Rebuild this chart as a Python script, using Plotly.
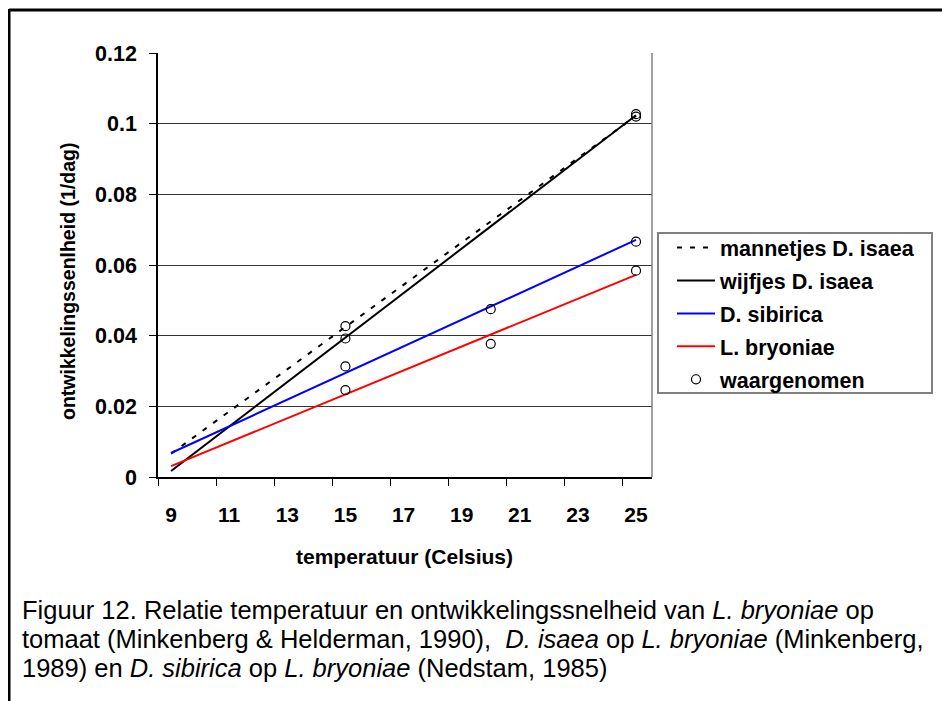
import plotly.graph_objects as go

# ---------------- data ----------------
line_temps = [9, 25]
male_isaea = [0.0066, 0.1022]
female_isaea = [0.0017, 0.1024]
sibirica = [0.0068, 0.0671]
bryoniae = [0.0031, 0.0572]

obs_temps = [15, 15, 15, 15, 20, 20, 25, 25, 25, 25]
obs_rates = [0.0427, 0.0392, 0.0313, 0.0246, 0.0475, 0.0377, 0.1027, 0.1020, 0.0666, 0.0584]

x_tick_vals = [9, 11, 13, 15, 17, 19, 21, 23, 25]
x_tick_text = ["9", "11", "13", "15", "17", "19", "21", "23", "25"]
x_range = [8.55, 25.55]
x_mark_vals = [8.55, 10.55, 12.55, 14.55, 16.55, 18.55, 20.55, 22.55, 24.55]
y_tick_vals = [0, 0.02, 0.04, 0.06, 0.08, 0.1, 0.12]

# ---------------- layout geometry (pixels in the screenshot) ----------------
OFF = 8  # default page body margin
FIG_W, FIG_H = 950, 701
L, R, T, B = 158, 652, 53, 477
W, H = R - L, B - T


def px_x(p):
    return (p - L) / W


def px_y(p):
    return (B - p) / H


BOLD = "Liberation Sans, Arial, sans-serif"
CAP = "Liberation Sans, Arial, sans-serif"

fig = go.Figure()

fig.add_trace(go.Scatter(
    x=line_temps, y=male_isaea, mode="lines", name="mannetjes D. isaea",
    line=dict(color="black", width=2, dash="5px,8px"), legendgroup="a"))
fig.add_trace(go.Scatter(
    x=line_temps, y=female_isaea, mode="lines", name="wijfjes D. isaea",
    line=dict(color="black", width=2), legendgroup="b"))
fig.add_trace(go.Scatter(
    x=line_temps, y=sibirica, mode="lines", name="D. sibirica",
    line=dict(color="#0000FF", width=2), legendgroup="c"))
fig.add_trace(go.Scatter(
    x=line_temps, y=bryoniae, mode="lines", name="L. bryoniae",
    line=dict(color="#FF0000", width=2), legendgroup="d"))
fig.add_trace(go.Scatter(
    x=obs_temps, y=obs_rates, mode="markers", name="waargenomen",
    marker=dict(symbol="circle-open", size=9, color="black", line=dict(width=1.2, color="black")),
    legendgroup="e"))

fig.update_layout(
    width=FIG_W - OFF, height=FIG_H - OFF,
    margin=dict(l=L - OFF, r=FIG_W - R, t=T - OFF, b=FIG_H - B, pad=0),
    paper_bgcolor="white", plot_bgcolor="white",
    showlegend=True,
    legend=dict(
        x=px_x(672), y=px_y(227), xanchor="left", yanchor="top",
        bgcolor="rgba(0,0,0,0)", borderwidth=0,
        font=dict(family=BOLD, size=21.5, color="black", weight="bold"),
        tracegroupgap=2, traceorder="grouped", itemwidth=38,
    ),
    xaxis=dict(
        range=x_range, tickmode="array", tickvals=x_tick_vals, ticktext=x_tick_text,
        ticks="", showgrid=False, zeroline=False,
        showline=True, linecolor="black", linewidth=1.5,
        tickfont=dict(family=BOLD, size=21, color="black", weight="bold"),
        ticklabelstandoff=18,
        minor=dict(tickmode="array", tickvals=x_mark_vals, ticks="outside",
                   ticklen=7, tickcolor="black", tickwidth=1, showgrid=False),
    ),
    yaxis=dict(
        range=[0, 0.12], tickmode="array", tickvals=y_tick_vals,
        ticks="outside", ticklen=7, tickcolor="black", tickwidth=1,
        showgrid=True, gridcolor="#333333", gridwidth=1, zeroline=False,
        showline=True, linecolor="black", linewidth=1.5,
        tickfont=dict(family=BOLD, size=21.5, color="black", weight="bold"),
        ticklabelstandoff=8,
    ),
)

# right edge of plot area (gray), outer frame lines, legend frame
fig.add_shape(type="line", xref="paper", yref="paper", x0=1, x1=1, y0=0, y1=1,
              line=dict(color="#808080", width=1.5))
fig.add_shape(type="line", xref="paper", yref="paper",
              x0=px_x(9), x1=px_x(950), y0=px_y(10), y1=px_y(10),
              line=dict(color="black", width=3))
fig.add_shape(type="line", xref="paper", yref="paper",
              x0=px_x(9), x1=px_x(9), y0=px_y(9), y1=px_y(701),
              line=dict(color="black", width=3))
fig.add_shape(type="rect", xref="paper", yref="paper",
              x0=px_x(658), x1=px_x(932), y0=px_y(393), y1=px_y(233),
              line=dict(color="#808080", width=2), fillcolor="white", layer="above")

# axis titles
fig.add_annotation(text="temperatuur (Celsius)", xref="paper", yref="paper",
                   x=px_x(404), y=px_y(556), xanchor="center", yanchor="middle",
                   showarrow=False,
                   font=dict(family=BOLD, size=21, color="black", weight="bold"))
fig.add_annotation(text="ontwikkelingssenlheid (1/dag)", xref="paper", yref="paper",
                   x=px_x(68), y=px_y(282), xanchor="center", yanchor="middle",
                   textangle=-90, showarrow=False,
                   font=dict(family=BOLD, size=19.5, color="black", weight="bold"))

# caption
caption_lines = [
    "Figuur 12. Relatie temperatuur en ontwikkelingssnelheid van <i>L. bryoniae</i> op",
    "tomaat (Minkenberg &amp; Helderman, 1990),  <i>D. isaea</i> op <i>L. bryoniae</i> (Minkenberg,",
    "1989) en <i>D. sibirica</i> op <i>L. bryoniae</i> (Nedstam, 1985)",
]
caption_y = [610, 639, 668]
for txt, yy in zip(caption_lines, caption_y):
    fig.add_annotation(text=txt, xref="paper", yref="paper",
                       x=px_x(20), y=px_y(yy), xanchor="left", yanchor="middle",
                       showarrow=False, align="left",
                       font=dict(family=CAP, size=25.5, color="black"))

fig.write_html("out.html")
